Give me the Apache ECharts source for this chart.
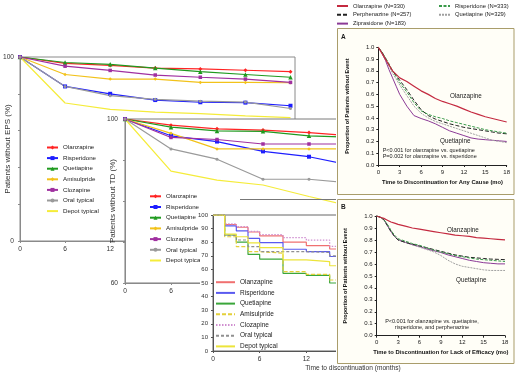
<!DOCTYPE html>
<html><head><meta charset="utf-8">
<script src="https://cdn.jsdelivr.net/npm/echarts@6/dist/echarts.min.js"></script>
<style>html,body{margin:0;padding:0;background:#fff}#c{width:520px;height:379px}</style>
</head><body><div id="c"></div>
<script>
// ---------- DATA ----------
// Panel 1: Patients without EPS (%)
const monthsEPS = [0, 6, 12, 18, 24, 30, 36];
const epsOlanzapine  = [100, 96.5, 95.4, 94, 93.5, 92.8, 92];
const epsRisperidone = [100, 84, 80, 76.6, 75.4, 75.2, 73.5];
const epsQuetiapine  = [100, 97, 96, 94, 92, 90.5, 89];
const epsAmisulpride = [100, 90.5, 88, 88, 86.2, 86.2, 86];
const epsClozapine   = [100, 95, 92.7, 90.2, 89, 88, 86.2];
const epsOralTypical = [100, 84, 79, 77, 76, 75.5, 72];
const epsDepotTypical= [100, 75, 71.5, 70, 69.2, 68, 67];
const epsYLabels = [0, 100];

// Panel 2: Patients without TD (%)
const monthsTD = [0, 6, 12, 18, 24, 30];
const tdOlanzapine  = [100, 98.5, 97.6, 97.3, 96.7, 95.8];
const tdRisperidone = [100, 95.9, 94.5, 92.1, 90.8, 88.5];
const tdQuetiapine  = [100, 98, 97.1, 97, 95.9, 95.5];
const tdAmisulpride = [100, 96.5, 92.7, 92.7, 92.7, 92.7];
const tdClozapine   = [100, 95.5, 95, 93.9, 93.9, 93.9];
const tdOralTypical = [100, 92.7, 90.2, 85.3, 85.3, 84.3];
const tdDepotTypical= [100, 87.3, 85.1, 83.9, 81.1, 78.5];
const tdYLabels = [60, 100];

// Panel 3: step curves, time to discontinuation
const monthsStep = [0, 1.5, 3, 4.5, 6, 9, 12, 15, 18];
const stOlanzapine  = [100, 93, 91, 87.5, 84.7, 80, 77.5, 75, 75];
const stRisperidone = [100, 92, 88.3, 82.8, 79.7, 74.8, 73, 69.5, 69.5];
const stQuetiapine  = [100, 85.3, 80, 71, 67.6, 57.1, 55.6, 50, 50];
const stAmisulpride = [100, 84, 76.7, 73, 72, 58.3, 56.4, 52.2, 52.2];
const stClozapine   = [100, 93.5, 91.5, 88, 85.5, 83.3, 81.5, 77, 77];
const stOralTypical = [100, 85, 81.6, 76.7, 73, 73, 72.5, 70, 70];
const stDepotTypical= [100, 86, 84, 79.5, 76, 67, 65.7, 62.7, 62.7];

// Panels A / B: Kaplan-Meier
const monthsKM = [0, 0.5, 1, 1.5, 2, 2.5, 3, 4, 5, 6, 7, 8, 9, 10, 11, 12, 13, 14, 15, 16, 17, 18];
const aOlanzapine   = [1,0.95,0.9,0.85,0.8,0.77,0.74,0.71,0.67,0.63,0.6,0.565,0.54,0.52,0.5,0.475,0.45,0.43,0.41,0.395,0.38,0.365];
const aRisperidone  = [1,0.96,0.91,0.86,0.8,0.75,0.7,0.62,0.53,0.46,0.43,0.41,0.395,0.375,0.36,0.345,0.33,0.315,0.3,0.29,0.28,0.27];
const aPerphenazine = [1,0.96,0.91,0.85,0.8,0.76,0.72,0.64,0.55,0.47,0.42,0.39,0.37,0.35,0.335,0.32,0.31,0.3,0.29,0.28,0.27,0.265];
const aQuetiapine   = [1,0.96,0.9,0.84,0.78,0.73,0.68,0.59,0.5,0.44,0.4,0.37,0.35,0.33,0.31,0.29,0.27,0.25,0.23,0.21,0.2,0.19];
const aZiprasidone  = [1,0.95,0.89,0.81,0.74,0.67,0.6,0.5,0.42,0.395,0.375,0.35,0.32,0.29,0.27,0.25,0.23,0.22,0.215,0.21,0.205,0.2];
const bOlanzapine   = [1,0.99,0.98,0.965,0.95,0.94,0.93,0.915,0.9,0.89,0.88,0.87,0.86,0.85,0.84,0.835,0.83,0.82,0.815,0.81,0.805,0.8];
const bRisperidone  = [1,0.99,0.97,0.93,0.88,0.84,0.81,0.79,0.77,0.755,0.735,0.715,0.7,0.685,0.67,0.66,0.65,0.64,0.635,0.63,0.625,0.62];
const bPerphenazine = [1,0.99,0.97,0.92,0.87,0.83,0.8,0.78,0.765,0.75,0.735,0.72,0.705,0.69,0.675,0.665,0.655,0.65,0.645,0.64,0.638,0.635];
const bQuetiapine   = [1,0.99,0.97,0.93,0.88,0.83,0.8,0.78,0.76,0.74,0.72,0.7,0.67,0.63,0.6,0.58,0.57,0.56,0.55,0.545,0.545,0.545];
const bZiprasidone  = [1,0.99,0.97,0.92,0.87,0.83,0.8,0.78,0.76,0.745,0.725,0.71,0.695,0.675,0.66,0.645,0.63,0.62,0.61,0.605,0.6,0.6];

const drugNames = ['Olanzapine','Risperidone','Quetiapine','Amisulpride','Clozapine','Oral typical','Depot typical'];
const kmNames = {ola:'Olanzapine (N=330)', per:'Perphenazine (N=257)', zip:'Ziprasidone (N=183)', ris:'Risperidone (N=333)', que:'Quetiapine (N=329)'};

// ---------- STYLES ----------
const FONT = 'Liberation Sans, Arial, sans-serif';
const st1 = [
  {color:'#ff2424', symbol:'diamond', size:4},
  {color:'#1e1eff', symbol:'rect', size:4},
  {color:'#1f9a1f', symbol:'triangle', size:4.5},
  {color:'#f2c21a', symbol:'diamond', size:3.5},
  {color:'#a030a0', symbol:'rect', size:3.5},
  {color:'#9a9a9a', symbol:'circle', size:3},
  {color:'#f5ec3a', symbol:'none', size:0}
];
const st3 = [
  {color:'#f07070'}, {color:'#5a5af0'}, {color:'#3aa63a'},
  {color:'#e4d03a', dash:[4,2]}, {color:'#d08ed0', dash:[1.5,1.5]},
  {color:'#909090', dash:[3,2]}, {color:'#ece43a'}
];

function ser(name, idx, xs, ys, s, z, extra) {
  const o = {
    type:'line', name:name, xAxisIndex:idx, yAxisIndex:idx,
    data: xs.map((x,i)=>[x, ys[i]]),
    symbol: s.symbol || 'none', symbolSize: s.size || 0, showSymbol: !!s.symbol && s.symbol!=='none',
    step: s.step || false,
    lineStyle:{color:s.color, width:s.width||1, type:s.dash||'solid'},
    itemStyle:{color:s.color}, z:z, silent:true, clip:true, animation:false,
    emphasis:{disabled:true}
  };
  return Object.assign(o, extra||{});
}
function arrow(from, to) {
  return {silent:true, animation:false, symbol:['none','arrow'], symbolSize:4,
    lineStyle:{color:'#222', width:0.7, type:'solid'}, label:{show:false},
    emphasis:{disabled:true}, data:[[{coord:from},{coord:to}]]};
}
const fmt = n => n.split('::')[1];

const series = [];
const eps = [epsOlanzapine, epsRisperidone, epsQuetiapine, epsAmisulpride, epsClozapine, epsOralTypical, epsDepotTypical];
const td = [tdOlanzapine, tdRisperidone, tdQuetiapine, tdAmisulpride, tdClozapine, tdOralTypical, tdDepotTypical];
const stp = [stOlanzapine, stRisperidone, stQuetiapine, stAmisulpride, stClozapine, stOralTypical, stDepotTypical];
drugNames.forEach((d,i)=>{ series.push(ser('p1::'+d, 0, monthsEPS, eps[i], Object.assign({width:1.2}, st1[i]), 2)); });
drugNames.forEach((d,i)=>{ series.push(ser('p2::'+d, 1, monthsTD, td[i], Object.assign({width:1.2}, st1[i]), 12)); });
drugNames.forEach((d,i)=>{ series.push(ser('p3::'+d, 2, monthsStep, stp[i], Object.assign({width:1.2, step:'end'}, st3[i]), 22)); });

const kmStyles = {
  ola:{color:'#c42a40', width:1.2}, ris:{color:'#3a9a4a', dash:[3,1.5]}, per:{color:'#222222', dash:[4,2]},
  que:{color:'#a0a0a0', dash:[2,1]}, zip:{color:'#8b3a96'}
};
const aData = {ola:aOlanzapine, ris:aRisperidone, per:aPerphenazine, que:aQuetiapine, zip:aZiprasidone};
const bData = {ola:bOlanzapine, ris:bRisperidone, per:bPerphenazine, que:bQuetiapine, zip:bZiprasidone};
['zip','que','per','ris','ola'].forEach(k=>{
  let extraA = null, extraB = null;
  if (k==='ola') { extraA = {markLine: arrow([14.5,0.545],[16.3,0.41])}; extraB = {markLine: arrow([14.2,0.875],[15.4,0.83])}; }
  if (k==='que') { extraA = {markLine: arrow([13.1,0.212],[14.4,0.245])}; extraB = {markLine: arrow([15.45,0.486],[16.6,0.535])}; }
  series.push(ser('A::'+kmNames[k], 3, monthsKM, aData[k], kmStyles[k], 32, extraA));
  series.push(ser('B::'+kmNames[k], 4, monthsKM, bData[k], kmStyles[k], 32, extraB));
});

// ---------- AXES ----------
function axBase(z, color) {
  return {
    type:'value', z:z, splitLine:{show:false}, nameMoveOverlap:false,
    axisLine:{show:true, onZero:false, lineStyle:{color:color, width:1}},
    axisTick:{show:true, length:2, lineStyle:{color:color}},
    axisLabel:{fontSize:6.6, color:'#333', fontFamily:FONT, margin:5}
  };
}
const xAxes = [
  Object.assign(axBase(1,'#8a8a8a'), {gridIndex:0, min:0, max:36.6, interval:6,
    axisLabel:{fontSize:6.6, color:'#333', fontFamily:FONT, margin:5, showMaxLabel:false}}),
  Object.assign(axBase(11,'#8a8a8a'), {gridIndex:1, min:0, max:36, interval:6}),
  Object.assign(axBase(21,'#555'), {gridIndex:2, min:0, max:36, interval:6,
    name:'Time to discontinuation (months)', nameLocation:'middle', nameGap:14,
    nameTextStyle:{fontSize:6.6, color:'#333', fontFamily:FONT}}),
  Object.assign(axBase(31,'#222'), {gridIndex:3, min:0, max:18, interval:3,
    axisLabel:{fontSize:6, color:'#222', fontFamily:FONT, margin:4},
    name:'Time to Discontinuation for Any Cause (mo)', nameLocation:'middle', nameGap:14,
    nameTextStyle:{fontSize:5.8, fontWeight:'bold', color:'#111', fontFamily:FONT}}),
  Object.assign(axBase(31,'#222'), {gridIndex:4, min:0, max:18, interval:3,
    axisLabel:{fontSize:6, color:'#222', fontFamily:FONT, margin:4},
    name:'Time to Discontinuation for Lack of Efficacy (mo)', nameLocation:'middle', nameGap:14,
    nameTextStyle:{fontSize:5.8, fontWeight:'bold', color:'#111', fontFamily:FONT}})
];
const yAxes = [
  Object.assign(axBase(1,'#8a8a8a'), {gridIndex:0, min:0, max:100, interval:20,
    axisLabel:{fontSize:6.6, color:'#333', fontFamily:FONT, margin:6, formatter:v=>epsYLabels.includes(v)?String(v):''},
    name:'Patients without EPS (%)', nameLocation:'middle', nameGap:8,
    nameTextStyle:{fontSize:8, color:'#333', fontFamily:FONT}}),
  Object.assign(axBase(11,'#8a8a8a'), {gridIndex:1, min:60, max:100, interval:10,
    axisLabel:{fontSize:6.6, color:'#333', fontFamily:FONT, margin:7, formatter:v=>tdYLabels.includes(v)?String(v):''},
    name:'Patients without TD (%)', nameLocation:'middle', nameGap:8,
    nameTextStyle:{fontSize:8, color:'#333', fontFamily:FONT}}),
  Object.assign(axBase(21,'#555'), {gridIndex:2, min:0, max:100, interval:10,
    axisLabel:{fontSize:6, color:'#333', fontFamily:FONT, margin:5}}),
  Object.assign(axBase(31,'#222'), {gridIndex:3, min:0, max:1, interval:0.1,
    axisLabel:{fontSize:6, color:'#222', fontFamily:FONT, margin:4, formatter:v=>v.toFixed(1)},
    name:'Proportion of Patients without Event', nameLocation:'middle', nameGap:28,
    nameTextStyle:{fontSize:5.5, fontWeight:'bold', color:'#111', fontFamily:FONT}}),
  Object.assign(axBase(31,'#222'), {gridIndex:4, min:0, max:1, interval:0.1,
    axisLabel:{fontSize:6, color:'#222', fontFamily:FONT, margin:4, formatter:v=>v.toFixed(1)},
    name:'Proportion of Patients without Event', nameLocation:'middle', nameGap:28,
    nameTextStyle:{fontSize:5.5, fontWeight:'bold', color:'#111', fontFamily:FONT}})
];

// ---------- LEGENDS ----------
function leg(items, left, top, w, h, gap, fs, z, extra) {
  return Object.assign({data:items, left:left, top:top, orient:'vertical', itemWidth:w, itemHeight:h, itemGap:gap,
    padding:0, selectedMode:false, formatter:fmt, z:z, align:'left',
    textStyle:{fontSize:fs, color:'#222', fontFamily:FONT}}, extra||{});
}
const hidden = {opacity:0};
const legItems1 = drugNames.map((d,i)=> st1[i].symbol==='none' ? {name:'p1::'+d, itemStyle:hidden} : {name:'p1::'+d});
const legItems2 = drugNames.map((d,i)=> st1[i].symbol==='none' ? {name:'p2::'+d, itemStyle:hidden} : {name:'p2::'+d});
const legends = [
  leg(legItems1, 46, 144.5, 11, 5, 4.6, 6.2, 3),
  leg(legItems2, 149, 193.3, 11, 5, 4.7, 6.2, 13),
  leg(drugNames.map(d=>'p3::'+d), 215, 278.7, 19, 6, 3.7, 6.5, 23, {itemStyle:hidden}),
  leg(['A::'+kmNames.ola,'A::'+kmNames.per,'A::'+kmNames.zip], 336, 3, 11, 6, 2.8, 5.8, 33, {itemStyle:hidden}),
  leg(['A::'+kmNames.ris,'A::'+kmNames.que], 438, 3, 11, 6, 2.8, 5.8, 33, {itemStyle:hidden})
];

// ---------- GRAPHIC (backgrounds, frames, annotations) ----------
function txt(s, x, y, fs, opts) {
  return Object.assign({type:'text', x:x, y:y, z:34, silent:true,
    style:Object.assign({text:s, fontSize:fs, fontFamily:FONT, fill:'#1a1a1a', align:'left', verticalAlign:'middle'}, opts||{})});
}
const graphics = [
  {type:'rect', shape:{x:200, y:205, width:320, height:174}, style:{fill:'#ffffff'}, z:15, silent:true},
  {type:'line', shape:{x1:240, y1:199.5, x2:336, y2:199.5}, style:{stroke:'#777', lineWidth:1}, z:16, silent:true},
  {type:'rect', shape:{x:336, y:0, width:184, height:365}, style:{fill:'#ffffff'}, z:28, silent:true},
  {type:'rect', shape:{x:337.5, y:28.5, width:176.5, height:166}, style:{fill:'#fffef7', stroke:'#a99d6b', lineWidth:1}, z:29, silent:true},
  {type:'rect', shape:{x:337.5, y:199.5, width:176.5, height:164}, style:{fill:'#fffef7', stroke:'#a99d6b', lineWidth:1}, z:29, silent:true},
  txt('A', 341, 37.5, 6.5, {fontWeight:'bold'}),
  txt('B', 341, 207, 6.5, {fontWeight:'bold'}),
  txt('Olanzapine', 450, 96.7, 6.3),
  txt('Quetiapine', 440, 141.7, 6.3),
  txt('P<0.001 for olanzapine vs. quetiapine', 382.7, 150, 5.5),
  txt('P=0.002 for olanzapine vs. risperidone', 382.7, 156.7, 5.5),
  txt('Olanzapine', 447, 230, 6.3),
  txt('Quetiapine', 456, 280, 6.3),
  txt('P<0.001 for olanzapine vs. quetiapine,', 432, 321.5, 5.5, {align:'center'}),
  txt('risperidone, and perphenazine', 432, 327.8, 5.5, {align:'center'})
];

const grids = [
  {left:20, top:57, width:275, height:184, show:true, borderColor:'#8a8a8a', borderWidth:1, backgroundColor:'#ffffff', z:0},
  {left:125, top:119, width:276, height:164, show:true, borderColor:'#7a7a7a', borderWidth:1, backgroundColor:'#ffffff', z:10},
  {left:213, top:215, width:280, height:136, show:true, borderColor:'#666', borderWidth:1, backgroundColor:'#ffffff', z:20},
  {left:378.3, top:47.3, width:128.4, height:117.7, show:false, z:30},
  {left:376.7, top:216, width:128.3, height:119.7, show:false, z:30}
].map(g=>Object.assign(g, {containLabel:false, outerBoundsMode:'none'}));

const chart = echarts.init(document.getElementById('c'), null, {renderer:'canvas'});
chart.setOption({
  animation:false,
  backgroundColor:'#ffffff',
  textStyle:{fontFamily:FONT},
  grid:grids, xAxis:xAxes, yAxis:yAxes, legend:legends, series:series,
  graphic:{elements:graphics}
});
</script></body></html>
